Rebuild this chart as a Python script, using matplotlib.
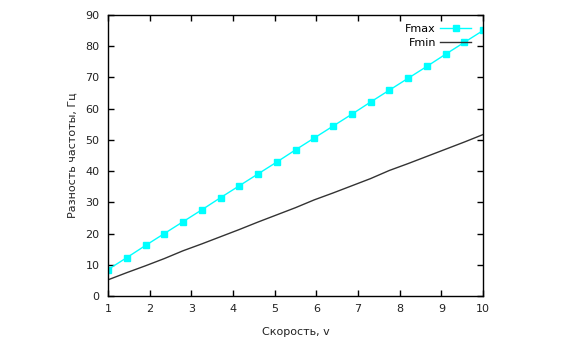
import matplotlib
matplotlib.use("Agg")
import matplotlib.pyplot as plt

v = [1.0, 1.45, 1.9, 2.35, 2.8, 3.25, 3.7, 4.15, 4.6, 5.05, 5.5, 5.95, 6.4, 6.85,
     7.3, 7.75, 8.2, 8.65, 9.1, 9.55, 10.0]
fmax = [8.5, 12.3, 16.2, 20.0, 23.8, 27.6, 31.5, 35.3, 39.1, 42.9, 46.8, 50.6,
        54.4, 58.2, 62.1, 65.9, 69.7, 73.5, 77.4, 81.2, 85.0]
fmin = [5.2, 7.5, 9.7, 12.0, 14.5, 16.7, 19.0, 21.3, 23.7, 26.0, 28.3, 30.8,
        33.0, 35.3, 37.6, 40.2, 42.4, 44.7, 47.0, 49.3, 51.7]
xticks = [1, 2, 3, 4, 5, 6, 7, 8, 9, 10]
yticks = [0, 10, 20, 30, 40, 50, 60, 70, 80, 90]

plt.rcParams['font.family'] = ['DejaVu Sans']
fig = plt.figure(figsize=(5.64, 3.38), dpi=100)
ax = fig.add_axes([0.1915, 0.124, 0.665, 0.832])

ax.plot(v, fmax, color='#00ffff', lw=1.0, marker='s', markersize=5, label='Fmax')
ax.plot(v, fmin, color='#333333', lw=1.0, label='Fmin')

ax.set_xlim(1, 10)
ax.set_ylim(0, 90)
ax.set_xticks(xticks)
ax.set_yticks(yticks)
ax.tick_params(direction='in', top=True, right=True, length=4, width=1,
               labelsize=8, labelcolor='#222222', pad=6)
for s in ax.spines.values():
    s.set_linewidth(1)
ax.set_xlabel('Скорость, v', fontsize=8, color='#222222', labelpad=9)
ax.set_ylabel('Разность частоты, Гц', fontsize=8, color='#222222', labelpad=6)

leg = ax.legend(loc='upper right', frameon=False, markerfirst=False, fontsize=8,
                handlelength=2.8, handletextpad=0.35, borderaxespad=0.0,
                labelspacing=0.4, bbox_to_anchor=(0.98, 0.985))

fig.savefig('out.png', dpi=100)
